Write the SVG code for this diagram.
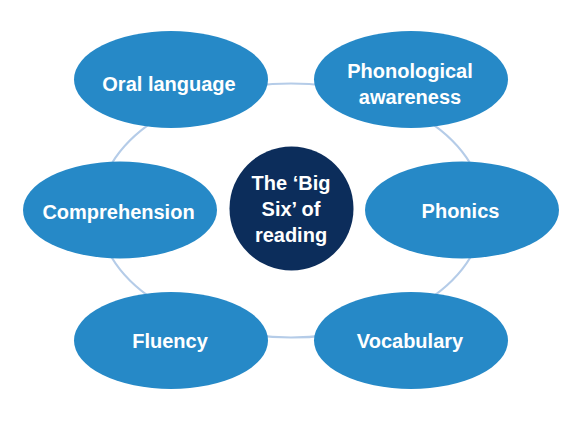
<svg xmlns="http://www.w3.org/2000/svg" width="588" height="422" viewBox="0 0 588 422">
<style>
.node{fill:#2689c7}
.hub{fill:#0c2d5b}
.ring{fill:none;stroke:#b5cce8;stroke-width:2.2}
text{font-family:"Liberation Sans",Arial,sans-serif;font-weight:bold;font-size:20px;fill:#ffffff;text-anchor:middle}
</style>
<rect width="588" height="422" fill="#ffffff"/>
<g id="connectors">
<ellipse class="ring" cx="291" cy="210.5" rx="193" ry="127"/>
</g>
<g id="hub">
<circle class="hub" cx="291.5" cy="208.5" r="62"/>
<text x="291" y="190">The ‘Big</text>
<text x="291" y="216">Six’ of</text>
<text x="291" y="242">reading</text>
</g>
<g id="oral-language">
<ellipse class="node" cx="171" cy="79.5" rx="97" ry="48.5"/>
<text x="169" y="91">Oral language</text>
</g>
<g id="phonological-awareness">
<ellipse class="node" cx="411" cy="79.5" rx="97" ry="48.5"/>
<text x="410" y="78">Phonological</text>
<text x="410" y="104">awareness</text>
</g>
<g id="comprehension">
<ellipse class="node" cx="120" cy="210" rx="97" ry="48.5"/>
<text x="118.5" y="219">Comprehension</text>
</g>
<g id="phonics">
<ellipse class="node" cx="462" cy="210" rx="97" ry="48.5"/>
<text x="460.5" y="218">Phonics</text>
</g>
<g id="fluency">
<ellipse class="node" cx="171" cy="340.5" rx="97" ry="48.5"/>
<text x="170" y="348">Fluency</text>
</g>
<g id="vocabulary">
<ellipse class="node" cx="411" cy="340.5" rx="97" ry="48.5"/>
<text x="410" y="348">Vocabulary</text>
</g>
</svg>
